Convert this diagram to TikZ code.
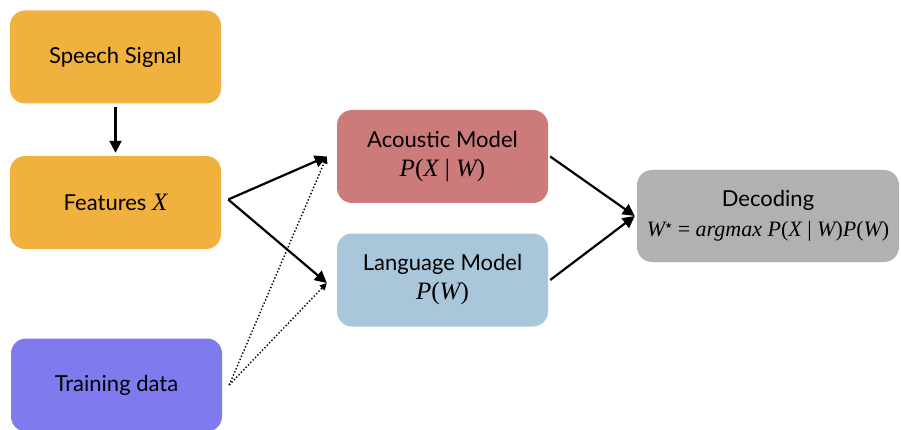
\documentclass[tikz,border=0pt]{standalone}
\usepackage{fontspec}
\setmainfont{Lato}
\newfontfamily\mathserif{Liberation Serif}
\newfontfamily\symfont{DejaVu Sans}
\usetikzlibrary{arrows.meta}
\definecolor{orangebox}{HTML}{F1B13F}
\definecolor{purplebox}{HTML}{7F7BEE}
\definecolor{redbox}{HTML}{CC7B7A}
\definecolor{bluebox}{HTML}{AAC6DA}
\definecolor{graybox}{HTML}{B1B1B1}
\newcommand{\mi}[1]{{\mathserif\itshape #1}}
\newcommand{\mr}[1]{{\mathserif #1}}
\begin{document}
\begin{tikzpicture}[x=1pt,y=-1pt,
  box/.style={rounded corners=15pt, minimum width=211pt, minimum height=93pt, inner sep=0pt, align=center, font=\fontsize{22}{28}\selectfont},
  solidarrow/.style={line width=2.2pt, -{Triangle[length=12pt,width=12pt]}},
  dotarrow/.style={line width=1.4pt, dotted, -{Triangle[length=7pt,width=7pt]}}]
\useasboundingbox (0,0) rectangle (901,430);
\begin{scope}
\clip (0,0) rectangle (901,430);
\node[box, fill=orangebox] (speech) at (115.5,57) {Speech Signal};
\node[box, fill=orangebox] (feat) at (115.5,202.5) {Features {\fontsize{25}{28}\selectfont\mi{X}}};
\node[box, fill=purplebox] (train) at (116.5,385) {Training data};
\node[box, fill=redbox] (ac) at (442.5,156.5) {Acoustic Model\\[1pt]{\fontsize{25}{28}\selectfont\mi{P}\mr{(}\mi{X}\mr{ | }\mi{W}\mr{)}}};
\node[box, fill=bluebox] (lm) at (442.5,280) {Language Model\\[1pt]{\fontsize{25}{28}\selectfont\mi{P}\mr{(}\mi{W}\mr{)}}};
\node[box, fill=graybox, minimum width=262pt, minimum height=92pt] (dec) at (768,216) {Decoding\\[2pt]{\fontsize{22}{26}\selectfont\mi{W}\raisebox{8pt}{\symfont\fontsize{8}{8}\selectfont ★}\mr{ = }\mi{argmax P}\mr{(}\mi{X}\mr{ | }\mi{W}\mr{)}\mi{P}\mr{(}\mi{W}\mr{)}}};
\end{scope}
\coordinate (fs) at ([xshift=7pt,yshift=3pt]feat.east);
\coordinate (ts) at ([xshift=7pt]train.east);
\coordinate (acin) at ([xshift=-10pt]ac.west);
\coordinate (lmin) at ([xshift=-10pt,yshift=-3pt]lm.west);
\draw[solidarrow] ([yshift=-3pt]speech.south) -- ([yshift=3pt]feat.north);
\draw[solidarrow] (fs) -- (acin);
\draw[solidarrow] (fs) -- (lmin);
\draw[dotarrow] (ts) -- (acin);
\draw[dotarrow] (ts) -- (lmin);
\draw[solidarrow] ([xshift=2pt]ac.east) -- ([xshift=-2pt]dec.west);
\draw[solidarrow] ([xshift=2pt]lm.east) -- ([xshift=-2pt]dec.west);
\end{tikzpicture}
\end{document}
